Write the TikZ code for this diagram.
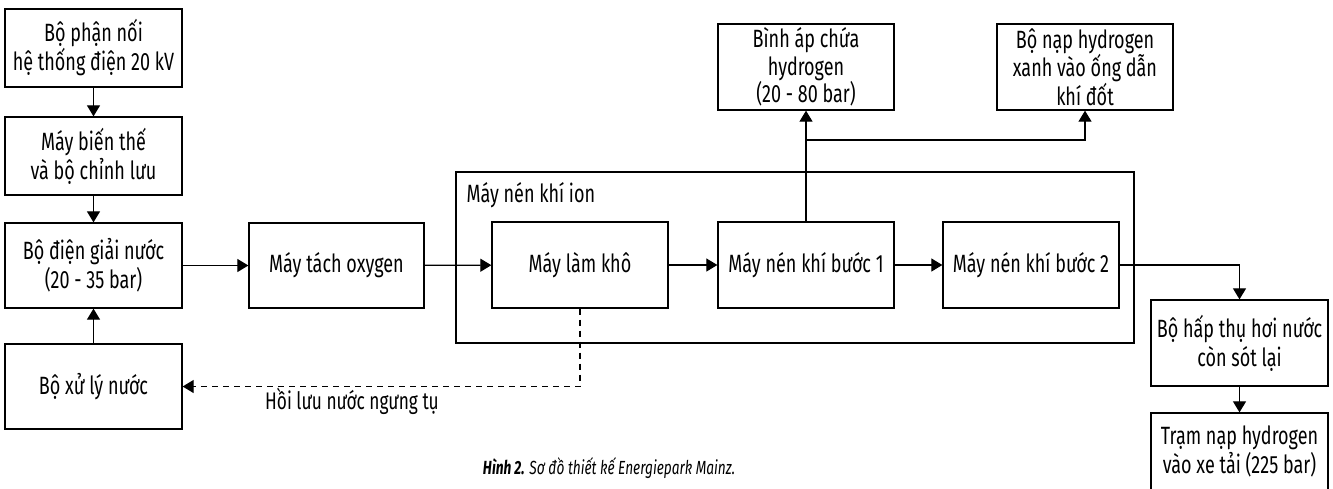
\documentclass[tikz,border=0pt]{standalone}
\usepackage{fontspec}
\setmainfont{Fira Sans}[FakeStretch=0.72]
\usetikzlibrary{arrows.meta}
\tikzset{
  box/.style={draw, line width=1.3pt, inner sep=0pt, align=center,
    minimum width=176pt, minimum height=86pt,
    font=\fontsize{25}{29}\selectfont},
  arr/.style={line width=1.2pt, -{Triangle[length=11pt,width=13pt]}},
  con/.style={line width=1.2pt},
}
\begin{document}
\begin{tikzpicture}[x=1pt,y=-1pt]
\useasboundingbox (0,0) rectangle (1333,488);
\node[box, minimum width=678pt, minimum height=171pt] (ion) at (795,257.5) {};
\node[anchor=base west, font=\fontsize{25}{29}\selectfont] (ionlbl) at (463,202) {Máy nén khí ion};
\node[box, minimum width=177pt, minimum height=78pt] (A) at (93.5,48) {Bộ phận nối\\hệ thống điện 20 kV};
\node[box, minimum width=177pt, minimum height=78pt] (B) at (93.5,156) {Máy biến thế\\và bộ chỉnh lưu};
\node[box, minimum width=177pt, minimum height=85pt] (C) at (93.5,265.5) {Bộ điện giải nước\\(20 - 35 bar)};
\node[box, minimum width=177pt, minimum height=85pt] (D) at (93.5,386.5) {Bộ xử lý nước};
\node[box, minimum width=175pt, minimum height=85pt] (E) at (336.5,265.5) {Máy tách oxygen};
\node[box] (F) at (580,265) {Máy làm khô};
\node[box] (G) at (806,265) {Máy nén khí bước 1};
\node[box] (H) at (1031,265) {Máy nén khí bước 2};
\node[box, font=\fontsize{25}{27.5}\selectfont] (I) at (806,67) {Bình áp chứa\\hydrogen\\(20 - 80 bar)};
\node[box, font=\fontsize{25}{27.5}\selectfont] (J) at (1085,67) {Bộ nạp hydrogen\\xanh vào ống dẫn\\khí đốt};
\node[box, minimum width=177pt] (K) at (1239.5,343) {Bộ hấp thụ hơi nước\\còn sót lại};
\node[box, minimum width=177pt, minimum height=77pt] (L) at (1239.5,451.5) {\raisebox{4pt}{\shortstack{Trạm nạp hydrogen\\[0pt]vào xe tải (225 bar)}}};
\coordinate (j) at (806,140);
\draw[arr] (A) -- (B);
\draw[arr] (B) -- (C);
\draw[arr] (D) -- (C);
\draw[arr] (C) -- (E);
\draw[arr] (E) -- (F);
\draw[arr] (F) -- (G);
\draw[arr] (G) -- (H);
\draw[con] (G.north) -- (j);
\draw[arr] (j) -- (I.south);
\draw[arr] (j) -| (J.south);
\draw[arr] (H.east) -| (K.north);
\draw[arr] (K) -- (L);
\draw[arr, dashed, dash pattern=on 6pt off 5pt] (F.south) |- (D.east);
\node[anchor=base, font=\fontsize{24}{29}\selectfont] (lbl) at (352,409) {Hồi lưu nước ngưng tụ};
\node[anchor=base, font=\fontsize{19}{20}\selectfont\itshape] (cap) at (609,474) {\textbf{Hình 2.} Sơ đồ thiết kế Energiepark Mainz.};
\end{tikzpicture}
\end{document}
